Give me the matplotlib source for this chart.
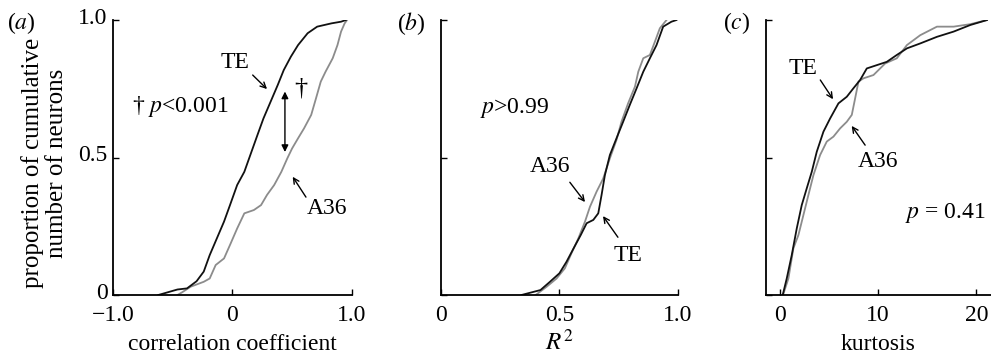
import numpy as np
import matplotlib.pyplot as plt
import matplotlib.transforms as mtransforms

plt.rcParams['font.family'] = ['Liberation Serif', 'DejaVu Serif']
plt.rcParams['mathtext.fontset'] = 'stix'

# (a) correlation coefficient, cumulative proportion
corr_te_x = [-0.62, -0.46, -0.38, -0.30, -0.24, -0.19, -0.13, -0.07, -0.02, 0.04, 0.10, 0.15,
             0.21, 0.26, 0.32, 0.38, 0.43, 0.49, 0.55, 0.63, 0.71, 0.83, 0.91, 0.95]
corr_te_y = [0.0, 0.02, 0.024, 0.05, 0.085, 0.145, 0.206, 0.267, 0.327, 0.40, 0.448, 0.509,
             0.582, 0.642, 0.703, 0.764, 0.818, 0.867, 0.909, 0.952, 0.976, 0.988, 0.994, 1.0]
corr_a36_x = [-0.46, -0.42, -0.35, -0.24, -0.19, -0.14, -0.07, -0.02, 0.04, 0.10, 0.18, 0.24,
              0.29, 0.35, 0.41, 0.46, 0.50, 0.55, 0.60, 0.66, 0.70, 0.74, 0.78, 0.84, 0.88,
              0.91, 0.94, 0.96]
corr_a36_y = [0.0, 0.01, 0.03, 0.048, 0.06, 0.109, 0.133, 0.182, 0.242, 0.297, 0.309, 0.327,
              0.364, 0.40, 0.448, 0.497, 0.533, 0.57, 0.606, 0.655, 0.715, 0.776, 0.812, 0.861,
              0.909, 0.958, 0.988, 1.0]

# (b) R^2
r2_te_x = [0.34, 0.42, 0.46, 0.50, 0.53, 0.56, 0.59, 0.615, 0.643, 0.664, 0.678, 0.692, 0.713,
           0.741, 0.769, 0.797, 0.826, 0.854, 0.882, 0.910, 0.938, 0.973, 0.994]
r2_te_y = [0.0, 0.018, 0.048, 0.079, 0.121, 0.170, 0.218, 0.261, 0.273, 0.297, 0.364, 0.436,
           0.509, 0.570, 0.630, 0.691, 0.752, 0.812, 0.861, 0.909, 0.976, 0.994, 1.0]
r2_a36_x = [0.40, 0.446, 0.488, 0.523, 0.551, 0.58, 0.608, 0.629, 0.657, 0.685, 0.713, 0.741,
            0.762, 0.79, 0.819, 0.833, 0.854, 0.882, 0.903, 0.924, 0.952]
r2_a36_y = [0.0, 0.03, 0.06, 0.097, 0.152, 0.206, 0.267, 0.321, 0.376, 0.424, 0.497, 0.564,
            0.630, 0.697, 0.758, 0.812, 0.861, 0.873, 0.921, 0.97, 1.0]

# (c) kurtosis
kurt_te_x = [0.27, 0.68, 1.19, 1.70, 2.21, 2.72, 3.23, 3.74, 4.42, 5.10, 5.95, 6.80, 7.48, 8.16,
             8.84, 9.86, 10.88, 11.90, 12.93, 14.29, 15.99, 17.69, 19.39, 21.09]
kurt_te_y = [0.0, 0.06, 0.145, 0.242, 0.327, 0.388, 0.448, 0.521, 0.594, 0.642, 0.697, 0.721,
             0.752, 0.782, 0.824, 0.836, 0.848, 0.873, 0.897, 0.915, 0.939, 0.958, 0.982, 1.0]
kurt_a36_x = [0.30, 0.85, 1.36, 1.87, 2.38, 2.89, 3.40, 4.08, 4.76, 5.44, 6.12, 6.80, 7.31, 7.65,
              7.99, 8.50, 9.52, 10.20, 10.71, 11.90, 12.93, 14.29, 15.99, 17.69, 19.39, 21.09]
kurt_a36_y = [0.0, 0.06, 0.17, 0.218, 0.291, 0.364, 0.436, 0.509, 0.558, 0.576, 0.606, 0.630,
              0.655, 0.715, 0.776, 0.788, 0.80, 0.824, 0.842, 0.861, 0.909, 0.945, 0.976, 0.976,
              0.985, 1.0]

BLACK = '#111111'
GRAY = '#8c8c8c'
FS = 17

fig = plt.figure(figsize=(9.91, 3.58), dpi=100)
bottom, height = 0.176, 0.768
ax_a = fig.add_axes([0.114, bottom, 0.241, height])
ax_b = fig.add_axes([0.445, bottom, 0.239, height])
ax_c = fig.add_axes([0.773, bottom, 0.227, height])

for ax in (ax_a, ax_b, ax_c):
    ax.spines['top'].set_visible(False)
    ax.spines['right'].set_visible(False)
    ax.spines['left'].set_linewidth(1.3)
    ax.spines['bottom'].set_linewidth(1.3)
    ax.tick_params(direction='in', length=4, width=1, labelsize=FS)
    ax.tick_params(axis='x', pad=7)
    ax.tick_params(axis='y', pad=4)
    ax.set_ylim(0, 1.0)
    ax.set_yticks([0, 0.5, 1.0])

arw = dict(arrowstyle='->', color='black', lw=1.0, shrinkA=0, shrinkB=0)

# panel a
ax_a.plot(corr_a36_x, corr_a36_y, color=GRAY, lw=1.3)
ax_a.plot(corr_te_x, corr_te_y, color=BLACK, lw=1.3)
ax_a.set_xlim(-1.0, 1.0)
ax_a.set_xticks([-1.0, 0, 1.0])
ax_a.set_xticklabels(['\u22121.0', '0', '1.0'])
ax_a.set_yticklabels(['0', '0.5', '1.0'])
# nudge the y tick labels up a little, as in the original
shift = mtransforms.ScaledTranslation(0, 3 / 72, fig.dpi_scale_trans)
for lab in ax_a.get_yticklabels():
    lab.set_transform(lab.get_transform() + shift)
ax_a.set_xlabel('correlation coefficient', fontsize=FS, labelpad=6)
ax_a.set_ylabel('proportion of cumulative\nnumber of neurons', fontsize=18,
                linespacing=1.1)
ax_a.yaxis.set_label_coords(-0.19, 0.48)
ax_a.text(0.02, 0.847, 'TE', fontsize=FS, ha='center', va='center')
ax_a.annotate('', xy=(0.29, 0.749), xytext=(0.17, 0.80), arrowprops=arw)
ax_a.text(0.79, 0.316, 'A36', fontsize=FS, ha='center', va='center')
ax_a.annotate('', xy=(0.505, 0.43), xytext=(0.616, 0.356), arrowprops=arw)
ax_a.annotate('', xy=(0.44, 0.74), xytext=(0.44, 0.52),
              arrowprops=dict(arrowstyle='<|-|>', color='black', lw=1.0,
                              mutation_scale=10, shrinkA=0, shrinkB=0))
ax_a.text(0.57, 0.75, '\u2020', fontsize=FS + 2, ha='center', va='center')
ax_a.text(-0.84, 0.684, '\u2020 $\\it{p}$<0.001', fontsize=FS, ha='left', va='center')

# panel b
ax_b.plot(r2_a36_x, r2_a36_y, color=GRAY, lw=1.3)
ax_b.plot(r2_te_x, r2_te_y, color=BLACK, lw=1.3)
ax_b.set_xlim(0, 1.0)
ax_b.set_xticks([0, 0.5, 1.0])
ax_b.set_xticklabels(['0', '0.5', '1.0'])
ax_b.set_yticklabels([])
ax_b.set_xlabel('$R^2$', fontsize=FS + 1, labelpad=3)
ax_b.text(0.165, 0.68, '$\\it{p}$>0.99', fontsize=FS, ha='left', va='center')
ax_b.text(0.46, 0.466, 'A36', fontsize=FS, ha='center', va='center')
ax_b.annotate('', xy=(0.608, 0.338), xytext=(0.544, 0.41), arrowprops=arw)
ax_b.text(0.79, 0.145, 'TE', fontsize=FS, ha='center', va='center')
ax_b.annotate('', xy=(0.684, 0.287), xytext=(0.747, 0.21), arrowprops=arw)

# panel c
ax_c.plot(kurt_a36_x, kurt_a36_y, color=GRAY, lw=1.3)
ax_c.plot(kurt_te_x, kurt_te_y, color=BLACK, lw=1.3)
ax_c.set_xlim(-1.43, 21.5)
ax_c.set_xticks([0, 10, 20])
ax_c.set_xticklabels(['0', '10', '20'])
ax_c.set_yticklabels([])
ax_c.set_xlabel('kurtosis', fontsize=FS, labelpad=6)
ax_c.text(2.35, 0.825, 'TE', fontsize=FS, ha='center', va='center')
ax_c.annotate('', xy=(5.4, 0.712), xytext=(4.1, 0.782), arrowprops=arw)
ax_c.text(10.0, 0.484, 'A36', fontsize=FS, ha='center', va='center')
ax_c.annotate('', xy=(7.3, 0.615), xytext=(8.67, 0.545), arrowprops=arw)
ax_c.text(16.8, 0.30, '$\\it{p}$ = 0.41', fontsize=FS, ha='center', va='center')

# panel letters
fig.text(0.021, 0.935, '($\\it{a}$)', fontsize=FS, ha='center', va='center')
fig.text(0.415, 0.935, '($\\it{b}$)', fontsize=FS, ha='center', va='center')
fig.text(0.743, 0.935, '($\\it{c}$)', fontsize=FS, ha='center', va='center')

fig.savefig('out.png', dpi=100)
